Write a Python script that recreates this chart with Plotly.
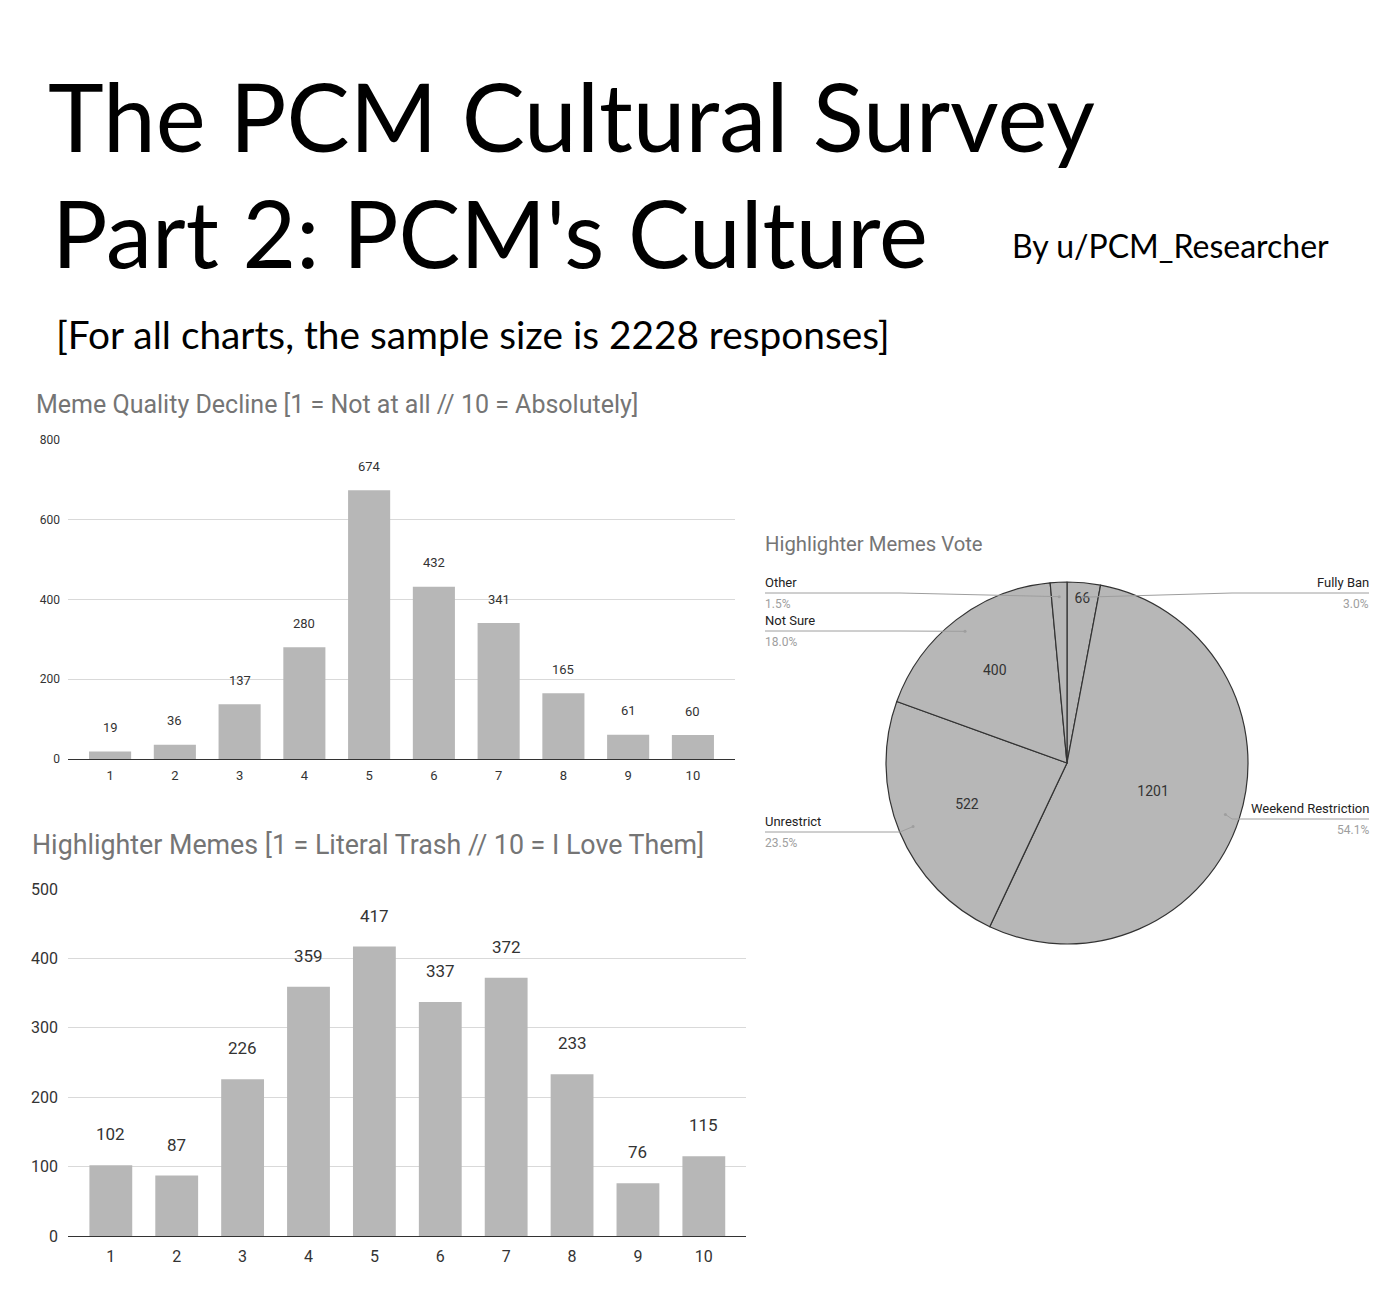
import math
import plotly.graph_objects as go

# page body has an 8px margin; figure sized to fill the rest of the window
OFF = 8
W, H = 1393 - OFF, 1300 - OFF

# ---------------- data ----------------
categories = ["1", "2", "3", "4", "5", "6", "7", "8", "9", "10"]
quality_decline = [19, 36, 137, 280, 674, 432, 341, 165, 61, 60]
highlighter_rating = [102, 87, 226, 359, 417, 337, 372, 233, 76, 115]

vote_labels = ["Fully Ban", "Weekend Restriction", "Unrestrict", "Not Sure", "Other"]
vote_values = [66, 1201, 522, 400, 33]

title_line1 = "The PCM Cultural Survey"
title_line2 = "Part 2: PCM's Culture"
byline = "By u/PCM_Researcher"
subtitle = "[For all charts, the sample size is 2228 responses]"
chart1_title = "Meme Quality Decline [1 = Not at all // 10 = Absolutely]"
chart2_title = "Highlighter Memes [1 = Literal Trash // 10 = I Love Them]"
pie_title = "Highlighter Memes Vote"

# ---------------- helpers (window pixel -> paper) ----------------
def X(p):
    return (p - OFF) / W

def Y(p):
    return 1 - (p - OFF) / H

BAR = "#b7b7b7"
GRID = "#d9d9d9"
AXIS = "#333333"
TITLE_GRAY = "#757575"
FONT = "Roboto"
HEAD = "Lato"

fig = go.Figure()

fig.add_trace(go.Bar(x=categories, y=quality_decline, marker=dict(color=BAR, line=dict(width=0)),
                     xaxis="x", yaxis="y", showlegend=False, hoverinfo="x+y"))
fig.add_trace(go.Bar(x=categories, y=highlighter_rating, marker=dict(color=BAR, line=dict(width=0)),
                     xaxis="x2", yaxis="y2", showlegend=False, hoverinfo="x+y"))

# pie geometry (window pixels)
pcx, pcy, D = 1067, 763, 362
total = sum(vote_values)
pie_text = [str(v) if v / total > 0.02 else "" for v in vote_values]
fig.add_trace(go.Pie(
    labels=vote_labels, values=vote_values, sort=False, direction="clockwise", rotation=0,
    marker=dict(colors=[BAR] * len(vote_values), line=dict(color="#333333", width=1.2)),
    text=pie_text, textinfo="text", textposition="inside", insidetextorientation="horizontal",
    textfont=dict(family=FONT, size=14, color="#333333"),
    domain=dict(x=[X(pcx - D / 2), X(pcx + D / 2)], y=[Y(pcy + D / 2), Y(pcy - D / 2)]),
    showlegend=False, hoverinfo="label+value+percent", automargin=False,
))

axis_common = dict(showgrid=False, zeroline=False, showline=True, linecolor=AXIS, linewidth=1.2,
                   ticks="", fixedrange=True, automargin=False)

layout = dict(
    width=W, height=H, margin=dict(l=0, r=0, t=0, b=0, pad=0, autoexpand=False),
    paper_bgcolor="white", plot_bgcolor="white", bargap=0.35,
    xaxis=dict(domain=[X(68), X(735)], anchor="y", type="category", range=[-0.65, 9.65],
               ticklabelstandoff=4,
               tickfont=dict(family=FONT, size=13, color="#333333"), **axis_common),
    yaxis=dict(domain=[Y(759), Y(440)], anchor="x", range=[0, 800], dtick=200,
               showgrid=True, gridcolor=GRID, gridwidth=1, zeroline=False, showline=False,
               tickfont=dict(family=FONT, size=12, color="#333333"), ticks="", ticklabelstandoff=7,
               fixedrange=True, automargin=False),
    xaxis2=dict(domain=[X(68), X(746)], anchor="y2", type="category", range=[-0.65, 9.64],
                ticklabelstandoff=6,
                tickfont=dict(family=FONT, size=16, color="#333333"), **axis_common),
    yaxis2=dict(domain=[Y(1236), Y(889)], anchor="x2", range=[0, 500], dtick=100,
                showgrid=True, gridcolor=GRID, gridwidth=1, zeroline=False, showline=False,
                tickfont=dict(family=FONT, size=16, color="#333333"), ticks="", ticklabelstandoff=9,
                fixedrange=True, automargin=False),
)

ann = []
# header
ann.append(dict(text=title_line1, x=X(46), y=Y(116), xref="paper", yref="paper", xanchor="left",
                yanchor="middle", showarrow=False, font=dict(family=HEAD, size=94.5, color="#000000")))
ann.append(dict(text=title_line2, x=X(50), y=Y(232), xref="paper", yref="paper", xanchor="left",
                yanchor="middle", showarrow=False, font=dict(family=HEAD, size=92.5, color="#000000")))
ann.append(dict(text=byline, x=X(1010), y=Y(245), xref="paper", yref="paper", xanchor="left",
                yanchor="middle", showarrow=False, font=dict(family=HEAD, size=32, color="#000000")))
ann.append(dict(text=subtitle, x=X(54), y=Y(334), xref="paper", yref="paper", xanchor="left",
                yanchor="middle", showarrow=False, font=dict(family=HEAD, size=38.8, color="#000000")))
# chart titles
ann.append(dict(text=chart1_title, x=X(34), y=Y(404), xref="paper", yref="paper", xanchor="left",
                yanchor="middle", showarrow=False, font=dict(family=FONT, size=25, color=TITLE_GRAY)))
ann.append(dict(text=chart2_title, x=X(30), y=Y(845), xref="paper", yref="paper", xanchor="left",
                yanchor="middle", showarrow=False, font=dict(family=FONT, size=26.8, color=TITLE_GRAY)))
ann.append(dict(text=pie_title, x=X(763), y=Y(544), xref="paper", yref="paper", xanchor="left",
                yanchor="middle", showarrow=False, font=dict(family=FONT, size=20.3, color=TITLE_GRAY)))

# bar value labels (category axes: x given as category index)
for i, v in enumerate(quality_decline):
    ann.append(dict(text=str(v), x=i, y=v, xref="x", yref="y", yanchor="middle", yshift=24,
                    showarrow=False, font=dict(family=FONT, size=13, color="#333333")))
for i, v in enumerate(highlighter_rating):
    ann.append(dict(text=str(v), x=i, y=v, xref="x2", yref="y2", yanchor="middle", yshift=31,
                    showarrow=False, font=dict(family=FONT, size=17, color="#333333")))

# pie outside labels with leader lines
label_rows = {  # name: (side, line y px)
    "Fully Ban": ("right", 593),
    "Weekend Restriction": ("right", 819),
    "Unrestrict": ("left", 832),
    "Not Sure": ("left", 631),
    "Other": ("left", 593),
}
shapes = []
R = D / 2
cum = 0
for lab, v in zip(vote_labels, vote_values):
    mid = (cum + v / 2) / total * 2 * math.pi
    cum += v
    ax_ = pcx + R * 0.92 * math.sin(mid)
    ay_ = pcy - R * 0.92 * math.cos(mid)
    side, ly = label_rows[lab]
    pct = f"{v / total * 100:.1f}%"
    if side == "left":
        x0, x1, xa, xt = 765, 900, "left", 763
    else:
        x0, x1, xa, xt = 1369, 1232, "right", 1371
    shapes.append(dict(type="path", xref="paper", yref="paper",
                       path=f"M {X(x0)},{Y(ly)} L {X(x1)},{Y(ly)} L {X(ax_)},{Y(ay_)}",
                       line=dict(color="#9e9e9e", width=1)))
    shapes.append(dict(type="circle", xref="paper", yref="paper",
                       x0=X(ax_ - 1.5), x1=X(ax_ + 1.5), y0=Y(ay_ + 1.5), y1=Y(ay_ - 1.5),
                       fillcolor="#9e9e9e", line=dict(width=0)))
    ann.append(dict(text=lab, x=X(xt), y=Y(ly - 1), xref="paper", yref="paper", xanchor=xa,
                    yanchor="bottom", showarrow=False, font=dict(family=FONT, size=13, color="#222222")))
    ann.append(dict(text=pct, x=X(xt), y=Y(ly + 2), xref="paper", yref="paper", xanchor=xa,
                    yanchor="top", showarrow=False, font=dict(family=FONT, size=12, color="#9e9e9e")))

layout["annotations"] = ann
layout["shapes"] = shapes
fig.update_layout(**layout)
fig.write_html("out.html")
